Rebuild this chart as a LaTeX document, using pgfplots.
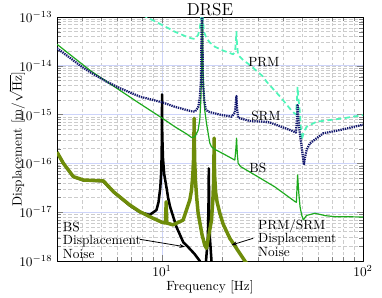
\documentclass[border=0pt]{standalone}
\usepackage{pgfplots}
\pgfplotsset{compat=1.18}
\usetikzlibrary{arrows.meta}
\definecolor{prmc}{RGB}{80,245,185}
\definecolor{srmc}{RGB}{20,25,110}
\definecolor{bsc}{RGB}{30,170,30}
\definecolor{olivec}{RGB}{110,140,10}
\definecolor{gridblue}{RGB}{205,212,250}
\begin{document}
\begin{tikzpicture}
\begin{axis}[
  scale only axis, width=229.5pt, height=183pt,
  xmode=log, ymode=log,
  xmin=3, xmax=100, ymin=1e-18, ymax=1e-13,
  xmajorgrids, ymajorgrids, xminorgrids, yminorgrids,
  major grid style={solid, color=gridblue, line width=0.5pt},
  minor grid style={dash pattern=on 2.5pt off 1.8pt, color=black!20, line width=0.4pt},
  title={DRSE},
  every axis title/.style={at={(axis description cs:0.5,1.0061)}, anchor=base, font=\fontsize{13}{15}\selectfont},
  xlabel={Frequency [Hz]},
  ylabel={Displacement $[\mathrm{m}/\sqrt{\mathrm{Hz}}]$},
  every axis x label/.style={at={(axis description cs:0.5,-0.1189)}, anchor=base},
  every axis y label/.style={at={(axis description cs:-0.1160,0.5)}, rotate=90, anchor=base, inner sep=1pt},
  tick align=inside,
  line join=round,
]
% BS displacement noise (black)
\addplot[black, line width=1.9pt] coordinates {
(3,1.7e-16) (3.23,1.0e-16) (3.62,5.3e-17) (4.06,4.5e-17) (4.91,4.35e-17) (5.1,4.3e-17)
(5.73,2.6e-17) (6.9,1.38e-17) (7.77,1.0e-17) (8.68,8.8e-18) (9.38,1.11e-17)
(9.6,1.6e-17) (9.8,3.2e-17) (9.9,6.5e-17) (9.95,1.4e-16) (9.98,3.5e-16) (10.0,2.6e-15)
(10.02,4e-16) (10.1,1.3e-16) (10.25,6e-17) (10.55,3e-17) (10.71,2.0e-17) (10.96,1.3e-17)
(11.79,5.0e-18) (12.77,2.4e-18) (13.23,2.1e-18) (14.5,1.4e-18) (15.41,1.0e-18)
(16.0,6e-19) (16.55,1.0e-18) (16.9,3e-18) (17.02,1.2e-17) (17.09,7.9e-17)
(17.16,1.2e-17) (17.3,3e-18) (17.62,1.0e-18) (18.5,4e-19) (25,1.5e-19)
};
% PRM/SRM displacement noise (olive)
\addplot[olivec, line width=2.6pt] coordinates {
(3,1.7e-16) (3.23,1.0e-16) (3.62,5.34e-17) (4.06,4.57e-17) (4.91,4.42e-17) (5.1,4.4e-17)
(5.73,2.63e-17) (6.9,1.41e-17) (7.77,1.02e-17) (8.68,8.1e-18) (10.0,6.2e-18)
(10.4,6.0e-18) (10.48,1.64e-17) (10.56,6.0e-18) (11.34,5.5e-18) (12.73,6.9e-18)
(13.74,1.78e-17) (14.01,2.8e-17) (14.22,5.7e-17) (14.34,1.2e-16) (14.40,2.8e-16)
(14.44,8.4e-16) (14.48,2.8e-16) (14.54,1.1e-16) (14.66,4.5e-17) (14.87,2.0e-17)
(15.12,9.5e-18) (15.8,3.5e-18) (16.32,2.1e-18) (16.64,1.82e-18) (17.0,3e-18)
(17.62,6.9e-18) (17.9,1.8e-17) (18.04,4e-17) (18.11,9e-17) (18.16,3.3e-16)
(18.21,1.0e-16) (18.3,5e-17) (18.5,2.5e-17) (18.8,1.6e-17) (19.39,9.5e-18)
(20.14,5.7e-18) (21.75,2.9e-18) (22.59,2.3e-18) (25.83,1.0e-18) (27,8e-19)
};
% BS (green)
\addplot[bsc, line width=0.9pt] coordinates {
(3,2.76e-14) (4.39,8.0e-15) (7.77,1.67e-15) (10,8.5e-16) (11.57,5.65e-16) (13.27,4.0e-16)
(14.02,3.4e-16) (14.56,3.5e-16) (15.12,4.8e-16) (15.41,8e-16) (15.6,2e-15) (15.75,1e-14)
(15.86,2e-13) (15.97,1e-14) (16.15,2.2e-15) (16.32,1.2e-15) (16.64,6.6e-16) (17.29,2.6e-16)
(17.62,2.2e-16) (18.31,1.94e-16) (20.14,1.58e-16) (23.03,1.17e-16) (23.3,2e-16)
(23.49,3.3e-16) (23.7,1.5e-16) (23.92,1.0e-16) (24.6,8.6e-17) (28.96,5.8e-17)
(36.43,3.3e-17) (46.0,1.64e-17) (46.6,1.6e-17) (47.27,5.8e-17) (47.9,2.5e-17)
(48.6,1.3e-17) (49.5,8.8e-18) (50.5,7e-18) (52.4,8.6e-18) (57.7,9.5e-18) (65,8.5e-18)
(72.5,8.1e-18) (100,8.0e-18)
};
% PRM (cyan dashed)
\addplot[prmc, line width=1.3pt, dash pattern=on 4pt off 2.5pt] coordinates {
(3,8e-13) (5,2.9e-13) (8.36,1.0e-13) (10.92,5.7e-14) (11.57,5.0e-14) (13.27,3.94e-14)
(14.02,3.65e-14) (14.56,3.54e-14) (15.12,4.3e-14) (15.41,5.8e-14) (15.62,1.0e-13)
(15.8,5e-13) (15.95,1.0e-13) (16.15,5e-14) (16.64,3.66e-14) (17.3,3.0e-14)
(18.31,2.46e-14) (20.14,2.05e-14) (22.59,1.72e-14) (23.1,2.0e-14) (23.3,3.2e-14)
(23.45,5.0e-14) (23.62,2.6e-14) (23.92,1.66e-14) (25.33,1.31e-14) (27.35,1.04e-14)
(31.86,6.0e-15) (33.13,4.72e-15) (39.0,2.25e-15) (44.13,1.2e-15) (46.37,1.0e-15)
(46.9,2.0e-15) (47.27,3.7e-15) (47.6,2.4e-15) (48.54,1.1e-15) (49.5,3.0e-16)
(50.82,4.5e-16) (52.43,5.65e-16) (58.79,7.16e-16) (68.48,7.75e-16) (79.77,8.4e-16)
(100,9.8e-16)
};
% SRM (navy dotted)
\addplot[srmc, line width=1.7pt, dash pattern=on 1pt off 0.7pt] coordinates {
(3,2.29e-14) (3.47,1.47e-14) (3.98,9.6e-15) (4.39,7.4e-15) (5.3,4.72e-15) (6.15,3.5e-15)
(7.77,2.33e-15) (10,1.79e-15) (11.57,1.45e-15) (13.27,1.24e-15) (14.02,1.17e-15)
(14.56,1.15e-15) (15.12,1.4e-15) (15.41,2.2e-15) (15.62,5e-15) (15.8,3e-13)
(15.97,5e-15) (16.2,2e-15) (16.5,1.3e-15) (16.95,1.15e-15) (19.39,1.0e-15)
(22.18,9.06e-16) (23.03,1.1e-15) (23.3,1.8e-15) (23.45,2.4e-15) (23.6,1.4e-15)
(23.92,8.6e-16) (27.35,7.4e-16) (31.86,7.16e-16) (34.41,6.9e-16) (44.13,4.7e-16)
(46.37,4.3e-16) (46.9,8e-16) (47.27,1.57e-15) (47.7,8e-16) (48.54,4e-16) (49.5,2.2e-16)
(50.3,1.3e-16) (50.82,9.3e-17) (51.4,1.3e-16) (52.43,1.9e-16) (54.45,2.58e-16)
(63.42,4.14e-16) (76.81,4.83e-16) (100,6.2e-16)
};
% labels
\node[font=\fontsize{10}{12}\selectfont] at (axis cs:32.1,1.2e-14) {PRM};
\node[font=\fontsize{10}{12}\selectfont] at (axis cs:32.9,9.35e-16) {SRM};
\node[font=\fontsize{10}{12}\selectfont] at (axis cs:29.98,8.05e-17) {BS};
\node[align=left, anchor=west, inner sep=0pt, font=\fontsize{10}{10.1}\selectfont] at (axis cs:3.2,2.69e-18) {BS\\Displacement\\Noise};
\node[align=left, anchor=west, inner sep=0pt, font=\fontsize{10}{10.1}\selectfont] at (axis cs:30.0,2.96e-18) {PRM/SRM\\Displacement\\Noise};
\draw[-{Stealth[length=4pt,width=3pt]}, line width=0.6pt] (axis cs:7.74,2.79e-18) -- (axis cs:12.98,1.96e-18);
\draw[-{Stealth[length=4pt,width=3pt]}, line width=0.6pt] (axis cs:28.4,2.92e-18) -- (axis cs:22.18,2.13e-18);
\end{axis}
\pgfresetboundingbox
\path[use as bounding box] ([shift={(-42.75pt,-27pt)}]current axis.south west) rectangle ([shift={(14.25pt,12.75pt)}]current axis.north east);
\end{tikzpicture}
\end{document}
